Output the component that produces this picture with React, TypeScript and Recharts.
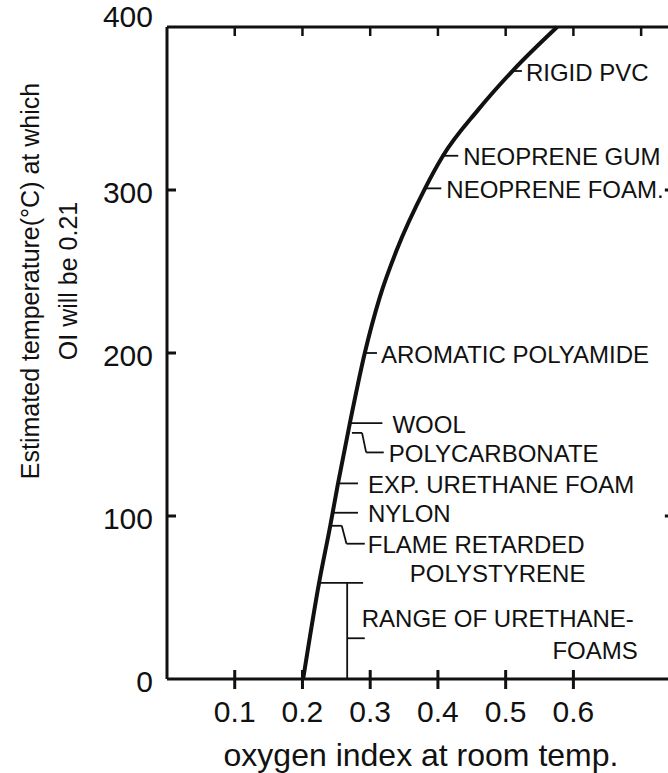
import React from "react";
import { LineChart, Line, XAxis, YAxis, ReferenceLine } from "recharts";

// curve: oxygen index at room temp vs temperature where OI = 0.21
const oxygenIndex = [0.201, 0.2245, 0.241, 0.2525, 0.27, 0.292, 0.314, 0.339, 0.381, 0.4075, 0.459, 0.51, 0.576];
const temperature = [0, 59, 94, 120, 157, 200, 234, 263, 301, 321, 349, 373, 400];

const xTicks = [0.1, 0.2, 0.3, 0.4, 0.5, 0.6];
const topTicks = [0.1, 0.2, 0.3, 0.4, 0.5, 0.6, 0.7];
const yTicks = [0, 100, 200, 300, 400];
const sideTicks = [100, 300];

// simple labelled materials (horizontal leader from the curve)
const noteText = ["RIGID PVC", "NEOPRENE GUM", "NEOPRENE FOAM.", "AROMATIC POLYAMIDE", "WOOL", "EXP. URETHANE FOAM", "NYLON"];
const noteOI = [0.51, 0.4075, 0.381, 0.292, 0.27, 0.2525, 0.245];
const noteTemp = [373, 321, 301, 200, 157, 120, 102];
const noteEndOI = [0.524, 0.43, 0.405, 0.31, 0.318, 0.282, 0.282];
const noteGap = [4, 5, 5, 4, 10, 10, 10];

// bent leaders
const polycarbPath = [[0.273, 151], [0.288, 151], [0.294, 139], [0.32, 139]];
const flamePath = [[0.243, 94], [0.258, 94], [0.265, 83], [0.292, 83]];
const rangeTop = [[0.2245, 59], [0.2895, 59]];
const rangeStem = [[0.266, 59], [0.266, 0]];
const rangeTick = [[0.266, 25], [0.292, 25]];

const xMax = 0.75;
const yMax = 400;

const data = oxygenIndex.map((oi, i) => ({ oi, temp: temperature[i] }));
// points on the top frame where the inward ticks sit
const topTickData = topTicks.map((oi) => ({ oi, edge: yMax }));

const ink = "#111";
const font = "'Liberation Sans', Arial, Helvetica, sans-serif";
const noteSize = 24;

const BottomTick = ({ x, y, payload }: any) => (
  <g>
    <line x1={x} x2={x} y1={y - 9} y2={y + 10} stroke={ink} strokeWidth={3} />
    <text x={x} y={y + 43} textAnchor="middle" fontSize={30} fill={ink} fontFamily={font}>
      {payload.value}
    </text>
  </g>
);

const TopTickMark = ({ cx, cy }: any) =>
  cx == null || cy == null ? null : (
    <line x1={cx} x2={cx} y1={cy} y2={cy + 9} stroke={ink} strokeWidth={2.5} />
  );

const LeftTick = ({ x, y, payload }: any) => (
  <g>
    {payload.value > 0 && payload.value < yMax && (
      <line x1={x} x2={x + 9} y1={y} y2={y} stroke={ink} strokeWidth={3} />
    )}
    <text
      x={x - 14}
      y={payload.value === yMax ? y - 11 : y + 2}
      textAnchor="end"
      dominantBaseline="central"
      fontSize={30}
      fill={ink}
      fontFamily={font}
    >
      {payload.value}
    </text>
  </g>
);

const YTitle = ({ viewBox }: any) => {
  const cy = 281;
  return (
    <g fontFamily={font} fontSize={25} fill={ink}>
      <text x={viewBox.x + 30} y={cy} textAnchor="middle" dominantBaseline="central" transform={`rotate(-90 ${viewBox.x + 30} ${cy})`}>
        Estimated temperature(°C) at which
      </text>
      <text x={viewBox.x + 68} y={cy} textAnchor="middle" dominantBaseline="central" transform={`rotate(-90 ${viewBox.x + 68} ${cy})`}>
        OI will be 0.21
      </text>
    </g>
  );
};

const XTitle = ({ viewBox }: any) => (
  <text x={viewBox.x + viewBox.width / 2} y={viewBox.y + 87} textAnchor="middle" fontSize={32} fill={ink} fontFamily={font}>
    oxygen index at room temp.
  </text>
);

// label to the right of a leader segment
const noteLabel = (text: string, gap: number, extra?: (vb: any) => React.ReactNode) => (props: any) => {
  const vb = props.viewBox;
  const x = vb.x + vb.width + gap;
  const y = vb.y + vb.height / 2;
  return (
    <g fontFamily={font} fontSize={noteSize} fill={ink}>
      <text x={x} y={y + 1} dominantBaseline="central">{text}</text>
      {extra && extra(vb)}
    </g>
  );
};

const segs = (path: number[][]) =>
  path.slice(1).map((p, i) => [
    { x: path[i][0], y: path[i][1] },
    { x: p[0], y: p[1] },
  ]);

export default function App() {
  const leader = { stroke: ink, strokeWidth: 1.8, ifOverflow: "visible" as const };
  return (
    <div style={{ position: "fixed", left: 0, top: 0, width: 668, height: 773, overflow: "hidden", background: "#fff" }}>
      <LineChart width={685} height={773} data={data} margin={{ top: 26, right: 10, bottom: 0, left: 0 }}>
        <XAxis
          dataKey="oi"
          type="number"
          domain={[0, xMax]}
          ticks={xTicks}
          allowDataOverflow
          height={94}
          axisLine={{ stroke: ink, strokeWidth: 3 }}
          tickLine={false}
          tickSize={0}
          tickMargin={0}
          tick={<BottomTick />}
          label={<XTitle />}
        />
        <XAxis
          xAxisId="top"
          orientation="top"
          dataKey="oi"
          type="number"
          domain={[0, xMax]}
          height={1}
          axisLine={{ stroke: ink, strokeWidth: 3 }}
          tickLine={false}
          tick={false}
        />
        <YAxis
          type="number"
          domain={[0, yMax]}
          ticks={yTicks}
          width={167}
          axisLine={{ stroke: ink, strokeWidth: 3 }}
          tickLine={false}
          tickSize={0}
          tickMargin={0}
          tick={<LeftTick />}
          label={<YTitle />}
        />

        {/* inward ticks on the right-hand frame (the frame itself lies just outside the picture) */}
        {sideTicks.map((t) => (
          <ReferenceLine key={`rt-${t}`} stroke={ink} strokeWidth={3} ifOverflow="visible"
            segment={[{ x: xMax - 0.015, y: t }, { x: xMax, y: t }]} />
        ))}

        {noteText.map((t, i) => (
          <ReferenceLine
            key={t}
            {...leader}
            segment={[{ x: noteOI[i], y: noteTemp[i] }, { x: noteEndOI[i], y: noteTemp[i] }]}
            label={noteLabel(t, noteGap[i])}
          />
        ))}

        {segs(polycarbPath).map((s, i, arr) => (
          <ReferenceLine
            key={`pc-${i}`}
            {...leader}
            segment={s}
            label={i === arr.length - 1 ? noteLabel("POLYCARBONATE", 5) : undefined}
          />
        ))}

        {segs(flamePath).map((s, i, arr) => (
          <ReferenceLine
            key={`fr-${i}`}
            {...leader}
            segment={s}
            label={
              i === arr.length - 1
                ? noteLabel("FLAME RETARDED", 3, (vb) => (
                    <text x={vb.x + vb.width + 45} y={vb.y + 30} dominantBaseline="central">
                      POLYSTYRENE
                    </text>
                  ))
                : undefined
            }
          />
        ))}

        <ReferenceLine {...leader} segment={segs(rangeTop)[0]} />
        <ReferenceLine {...leader} segment={segs(rangeStem)[0]} />
        <ReferenceLine
          {...leader}
          segment={segs(rangeTick)[0]}
          label={(props: any) => {
            const vb = props.viewBox;
            const x = vb.x + vb.width - 3;
            return (
              <g fontFamily={font} fontSize={noteSize} fill={ink}>
                <text x={x} y={vb.y - 20} dominantBaseline="central">RANGE OF URETHANE-</text>
                <text x={x + 276} y={vb.y + 12} textAnchor="end" dominantBaseline="central">FOAMS</text>
              </g>
            );
          }}
        />

        <Line
          dataKey="temp"
          type="monotone"
          stroke={ink}
          strokeWidth={4}
          dot={false}
          isAnimationActive={false}
        />
        {/* top-frame ticks drawn as the dots of an invisible series on the frame */}
        <Line
          data={topTickData}
          dataKey="edge"
          stroke="none"
          dot={<TopTickMark />}
          activeDot={false}
          isAnimationActive={false}
          legendType="none"
        />
      </LineChart>
    </div>
  );
}
